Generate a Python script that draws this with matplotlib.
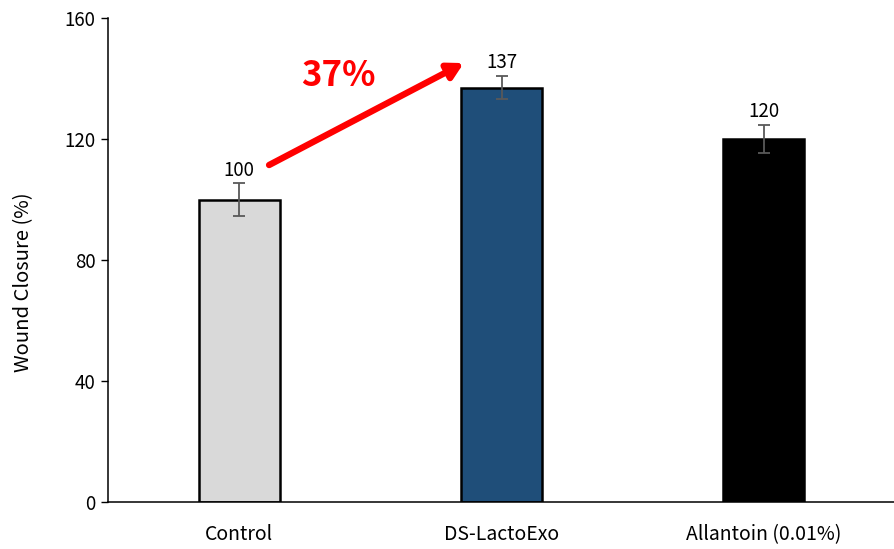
import matplotlib

matplotlib.use("Agg")
import matplotlib.pyplot as plt
import numpy as np

plt.rcParams["font.family"] = ["Noto Sans CJK KR", "DejaVu Sans"]

CATEGORIES = ["Control", "DS-LactoExo", "Allantoin (0.01%)"]
VALUES = [100, 137, 120]
ERRORS = [5.3, 3.8, 4.6]
COLORS = ["#D9D9D9", "#1F4E79", "#000000"]
Y_TICKS = [0, 40, 80, 120, 160]
INCREASE_LABEL = "37%"


def main() -> None:
    fig = plt.figure(figsize=(8.95, 5.49), dpi=100)
    ax = fig.add_axes((0.1207, 0.0856, 0.8793, 0.8816))

    x = np.arange(len(CATEGORIES))
    ax.bar(x, VALUES, width=0.31, color=COLORS, edgecolor="black",
           linewidth=1.8, zorder=2)
    ax.errorbar(x, VALUES, yerr=ERRORS, fmt="none", ecolor="#595959",
                elinewidth=1.3, capsize=4.5, capthick=1.3, zorder=3)
    for xi, v, e in zip(x, VALUES, ERRORS):
        ax.annotate(f"{v}", (xi, v + e), xytext=(0, 2),
                    textcoords="offset points", ha="center", va="bottom",
                    fontsize=13.5)

    # arrow from Control to DS-LactoExo
    ax.annotate("", xy=(x[1] - 0.144, 145.1), xytext=(x[0] + 0.114, 111.4),
                arrowprops=dict(arrowstyle="-|>,head_length=0.9,head_width=0.5",
                                color="#FF0000", lw=4.6, shrinkA=0, shrinkB=0))
    ax.text(x[0] + 0.38, 141, INCREASE_LABEL, color="#FF0000",
            fontsize=25, fontweight="bold", ha="center", va="center")

    ax.set_xlim(-0.5, 2.5)
    ax.set_ylim(0, 160)
    ax.set_yticks(Y_TICKS)
    ax.set_xticks(x)
    ax.set_xticklabels(CATEGORIES, fontsize=14)
    ax.tick_params(axis="x", length=0, pad=16)
    ax.tick_params(axis="y", length=5, width=1, labelsize=13.5, pad=4)
    ax.set_ylabel("Wound Closure (%)", fontsize=14.5)
    ax.yaxis.set_label_coords(-0.094, 0.455)
    for side in ("top", "right"):
        ax.spines[side].set_visible(False)
    for side in ("left", "bottom"):
        ax.spines[side].set_linewidth(1.1)

    fig.savefig("out.png", dpi=100)
    plt.close(fig)


if __name__ == "__main__":
    main()
